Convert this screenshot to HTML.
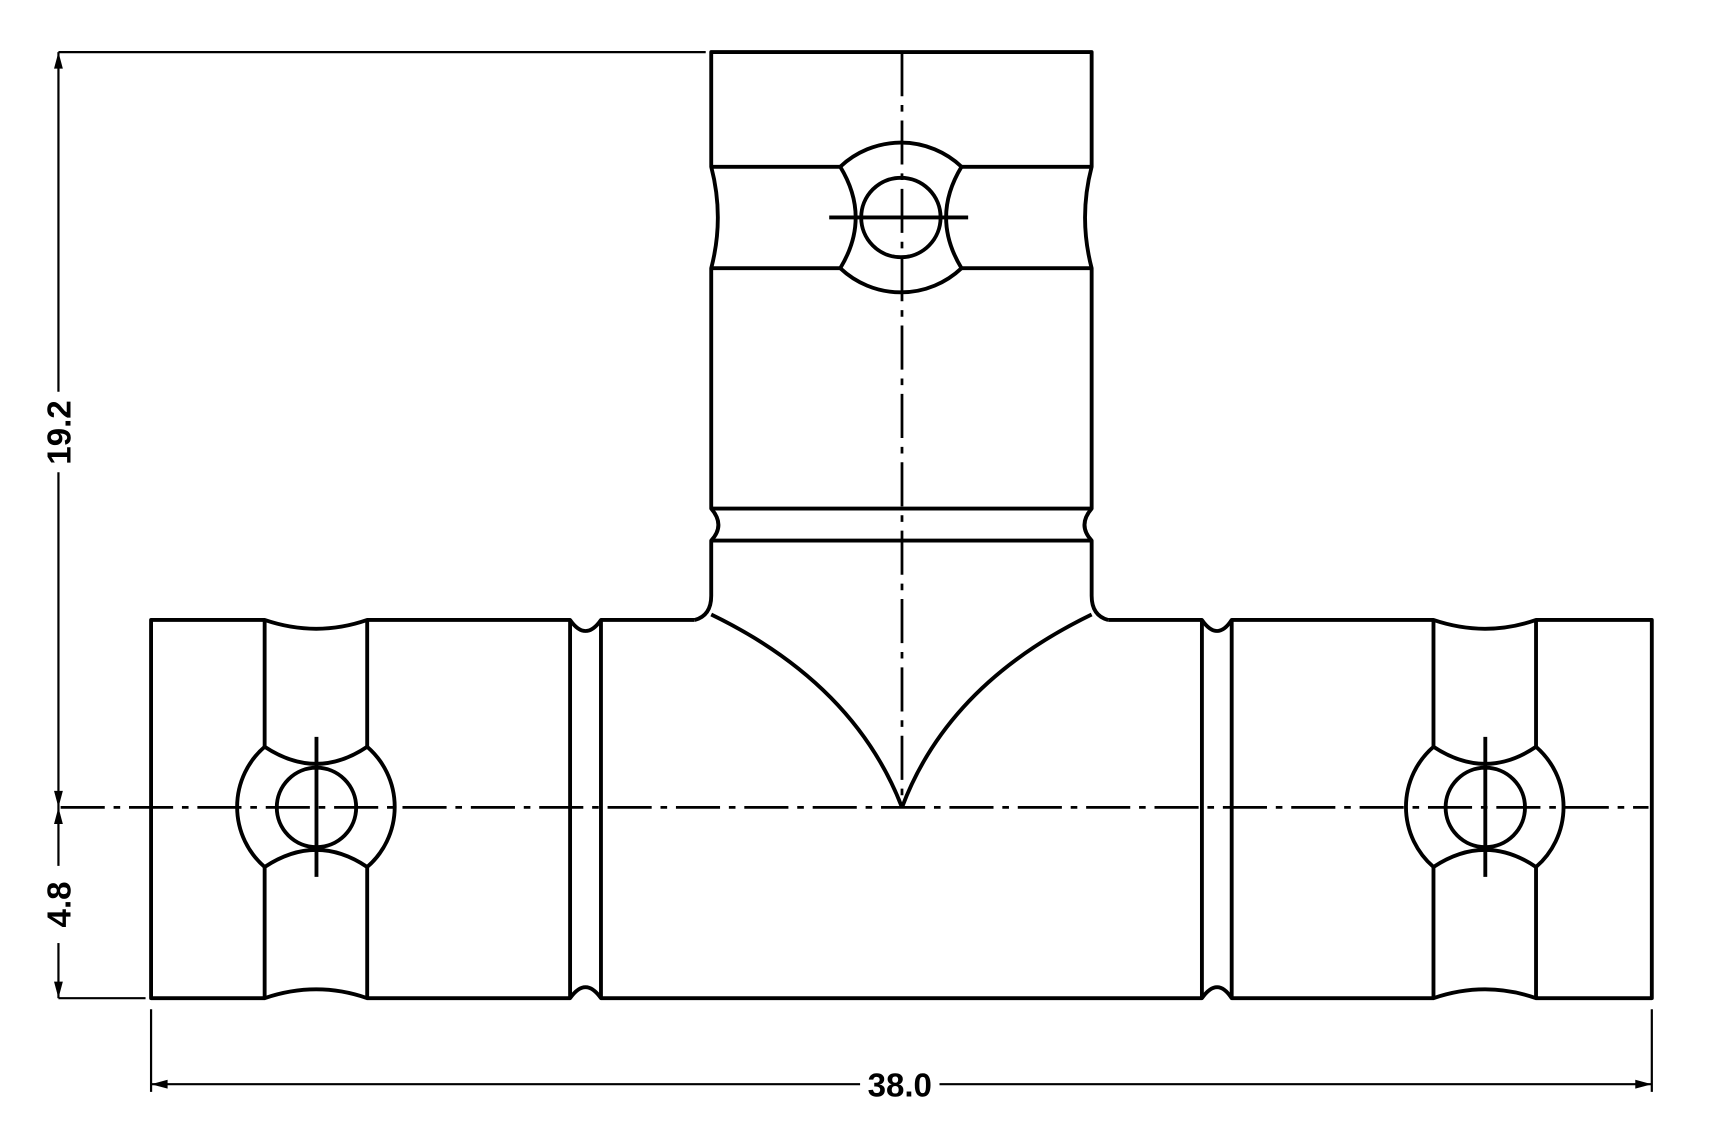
<!DOCTYPE html>
<html><head><meta charset="utf-8"><style>
html,body{margin:0;padding:0;background:#fff;}
svg{display:block}
text{font-family:"Liberation Sans",sans-serif;font-weight:bold;fill:#000}
</style></head><body>
<svg width="1729" height="1144" viewBox="0 0 1568 1037" xmlns="http://www.w3.org/2000/svg">
<g fill="none" stroke="#000" stroke-width="3.5" stroke-linejoin="round">
<!-- stem outline -->
<path d="M630 562 Q645 558 645 540 L645 490 Q658 476 645 461 L645 243 Q657 197 645 151 L645 47 L990 47 L990 151 Q978 197 990 243 L990 461 Q977 476 990 490 L990 540 Q990 558 1005 562"/>
<line x1="645" y1="151" x2="762" y2="151"/><line x1="872" y1="151" x2="990" y2="151"/>
<line x1="645" y1="243" x2="762" y2="243"/><line x1="872" y1="243" x2="990" y2="243"/>
<line x1="645" y1="461" x2="990" y2="461"/><line x1="645" y1="490" x2="990" y2="490"/>
<!-- stem hole -->
<path d="M762 151 A80 80 0 0 1 872 151"/>
<path d="M762 243 A80 80 0 0 0 872 243"/>
<path d="M762 151 Q790 197 762 243"/>
<path d="M872 151 Q844 197 872 243"/>
<circle cx="817" cy="197" r="36"/>
<line x1="752" y1="197" x2="878" y2="197"/>
<!-- body outline -->
<path d="M630 562 L545 562 Q531 582 517 562 L333 562 Q287 578 240 562 L137 562 L137 905 L240 905 Q287 889 333 905 L517 905 Q531 885 545 905 L1090 905 Q1104 885 1117 905 L1300 905 Q1347 889 1393 905 L1498 905 L1498 562 L1393 562 Q1347 578 1300 562 L1117 562 Q1104 582 1090 562 L1005 562"/>
<line x1="517" y1="562" x2="517" y2="905"/><line x1="545" y1="562" x2="545" y2="905"/>
<line x1="1090" y1="562" x2="1090" y2="905"/><line x1="1117" y1="562" x2="1117" y2="905"/>
<!-- V curves -->
<path d="M645 557 Q775 620 818 732"/>
<path d="M990 557 Q860 620 818 732"/>
<!-- left cap -->
<line x1="240" y1="562" x2="240" y2="677"/><line x1="333" y1="562" x2="333" y2="677"/>
<line x1="240" y1="786" x2="240" y2="905"/><line x1="333" y1="786" x2="333" y2="905"/>
<path d="M240 677 Q287 708 333 677"/><path d="M240 786 Q287 755 333 786"/>
<path d="M240 677 A72 72 0 0 0 240 786"/><path d="M333 677 A72 72 0 0 1 333 786"/>
<circle cx="287" cy="732" r="36"/>
<line x1="287" y1="668" x2="287" y2="795"/>
<!-- right cap -->
<line x1="1300" y1="562" x2="1300" y2="677"/><line x1="1393" y1="562" x2="1393" y2="677"/>
<line x1="1300" y1="786" x2="1300" y2="905"/><line x1="1393" y1="786" x2="1393" y2="905"/>
<path d="M1300 677 Q1347 708 1393 677"/><path d="M1300 786 Q1347 755 1393 786"/>
<path d="M1300 677 A72 72 0 0 0 1300 786"/><path d="M1393 677 A72 72 0 0 1 1393 786"/>
<circle cx="1347" cy="732" r="36"/>
<line x1="1347" y1="668" x2="1347" y2="795"/>
</g>
<!-- center lines -->
<g stroke="#000" stroke-width="2.5" fill="none" stroke-dasharray="40 8 6 8">
<line x1="55" y1="732" x2="1495" y2="732"/>
<line x1="818" y1="47" x2="818" y2="732"/>
</g>
<!-- dimensions -->
<g stroke="#000" stroke-width="2" fill="none">
<line x1="53" y1="47" x2="640" y2="47"/>
<line x1="53" y1="905" x2="132" y2="905"/>
<line x1="53" y1="47" x2="53" y2="355"/>
<line x1="53" y1="428" x2="53" y2="785"/>
<line x1="53" y1="855" x2="53" y2="905"/>
<line x1="137" y1="915" x2="137" y2="990"/>
<line x1="1498" y1="915" x2="1498" y2="990"/>
<line x1="137" y1="983" x2="780" y2="983"/>
<line x1="852" y1="983" x2="1498" y2="983"/>
</g>
<g fill="#000">
<path d="M53 47 L49 62 L57 62 Z"/>
<path d="M53 732 L49 717 L57 717 Z"/>
<path d="M53 732 L49 747 L57 747 Z"/>
<path d="M53 905 L49 890 L57 890 Z"/>
<path d="M137 983 L152 979 L152 987 Z"/>
<path d="M1498 983 L1483 979 L1483 987 Z"/>
</g>
<text x="816" y="994" font-size="30" text-anchor="middle">38.0</text>
<text transform="translate(64 392) rotate(-90)" font-size="30" text-anchor="middle">19.2</text>
<text transform="translate(64 820) rotate(-90)" font-size="30" text-anchor="middle">4.8</text>
</svg>
</body></html>
